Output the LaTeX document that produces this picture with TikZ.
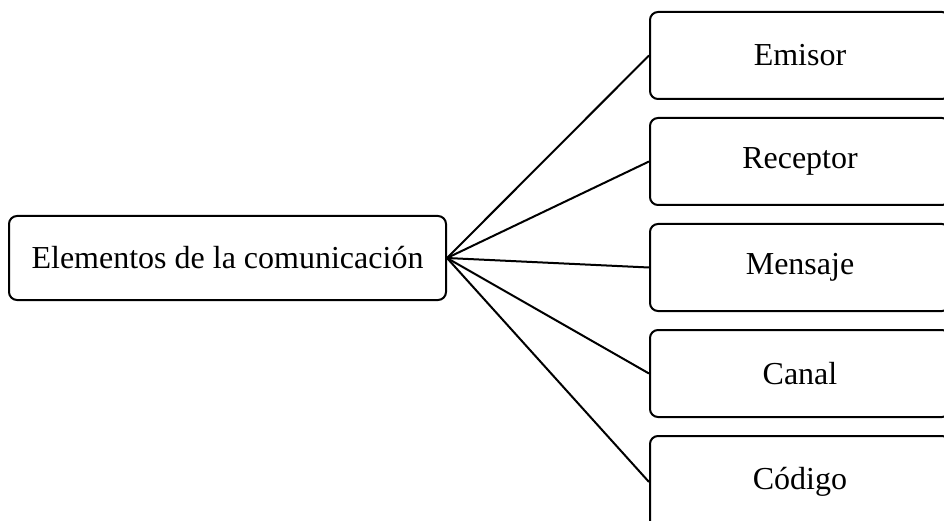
\documentclass[tikz,border=0pt]{standalone}
\usepackage{fontspec}
\setmainfont{Liberation Serif}
\begin{document}
\begin{tikzpicture}[x=1pt,y=-1pt,
  box/.style={draw, line width=2pt, rounded corners=8pt, inner sep=0pt,
    font=\fontsize{32}{38}\selectfont, align=center},
  leftbox/.style={box, minimum width=437pt, minimum height=84pt},
  rightbox/.style={box, minimum width=300pt, minimum height=87pt},
  link/.style={line width=2pt}]
\useasboundingbox (0,0) rectangle (944,521);
\clip (0,0) rectangle (944,521);
\node[leftbox] (main) at (227.5,258) {Elementos de la comunicación};
\node[rightbox] (emisor) at (800,55.5) {Emisor};
\node[rightbox] (receptor) at (800,161.5) {Receptor};
\node[rightbox] (mensaje) at (800,267.5) {Mensaje};
\node[rightbox] (canal) at (800,373.5) {Canal};
\node[rightbox, minimum height=92pt] (codigo) at (800,482) {\raisebox{2pt}{Código}};
\foreach \n in {emisor,receptor,mensaje,canal,codigo}
  \draw[link] (main.east) -- (\n.west);
\end{tikzpicture}
\end{document}
